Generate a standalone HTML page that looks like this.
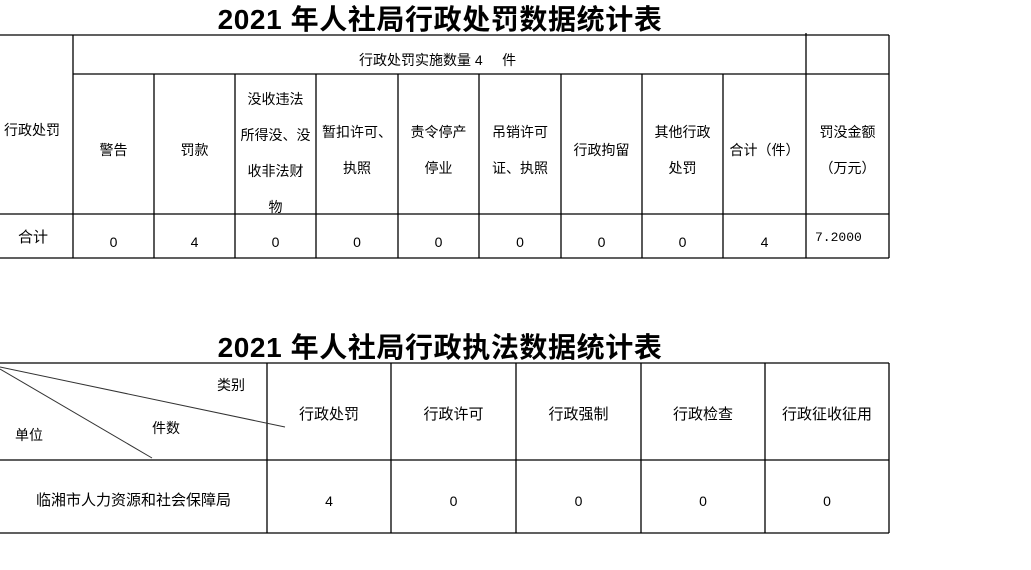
<!DOCTYPE html>
<html><head><meta charset="utf-8"><style>
body{margin:0;width:1031px;height:570px;background:#fff;position:relative;overflow:hidden;font-family:"Liberation Sans","Noto Sans CJK SC",sans-serif;color:#000}
.t{position:absolute;font-size:14px;white-space:nowrap;line-height:1}
.c{position:absolute;font-size:14px;text-align:center;line-height:36px}
.h{position:absolute;left:140px;width:600px;text-align:center;font-weight:bold;font-size:28px;letter-spacing:0.6px;white-space:nowrap;line-height:1}
svg{position:absolute;left:0;top:0}
</style></head><body>
<svg width="1031" height="570">
<g stroke="#000" stroke-width="1.3" fill="none">
<line x1="0" y1="35" x2="889" y2="35"/>
<line x1="73" y1="74" x2="889" y2="74"/>
<line x1="0" y1="214" x2="889" y2="214"/>
<line x1="0" y1="258" x2="889" y2="258"/>
<line x1="73" y1="35" x2="73" y2="258"/>
<line x1="154" y1="74" x2="154" y2="258"/>
<line x1="235" y1="74" x2="235" y2="258"/>
<line x1="316" y1="74" x2="316" y2="258"/>
<line x1="398" y1="74" x2="398" y2="258"/>
<line x1="479" y1="74" x2="479" y2="258"/>
<line x1="561" y1="74" x2="561" y2="258"/>
<line x1="642" y1="74" x2="642" y2="258"/>
<line x1="723" y1="74" x2="723" y2="258"/>
<line x1="806" y1="33" x2="806" y2="258"/>
<line x1="889" y1="35" x2="889" y2="258"/>
<line x1="0" y1="363" x2="889" y2="363"/>
<line x1="0" y1="460" x2="889" y2="460"/>
<line x1="0" y1="533" x2="889" y2="533"/>
<line x1="267" y1="363" x2="267" y2="533"/>
<line x1="391" y1="363" x2="391" y2="533"/>
<line x1="516" y1="363" x2="516" y2="533"/>
<line x1="641" y1="363" x2="641" y2="533"/>
<line x1="765" y1="363" x2="765" y2="533"/>
<line x1="889" y1="363" x2="889" y2="533"/>
</g>
<g stroke="#333" stroke-width="1" fill="none">
<line x1="0" y1="367" x2="285" y2="427"/>
<line x1="0" y1="369" x2="152" y2="458"/>
</g>
</svg>
<div class="h" style="top:6px">2021 年人社局行政处罚数据统计表</div>
<div class="h" style="top:334px">2021 年人社局行政执法数据统计表</div>

<div class="t" style="left:359px;top:53px">行政处罚实施数量 4&nbsp;&nbsp;&nbsp;&nbsp; 件</div>
<div class="t" style="left:4px;top:123px">行政处罚</div>
<div class="c" style="left:73px;width:81px;top:132px">警告</div>
<div class="c" style="left:154px;width:81px;top:132px">罚款</div>
<div class="c" style="left:235px;width:81px;top:81px">没收违法<br>所得没、没<br>收非法财<br>物</div>
<div class="c" style="left:316px;width:82px;top:114px">暂扣许可、<br>执照</div>
<div class="c" style="left:398px;width:81px;top:114px">责令停产<br>停业</div>
<div class="c" style="left:479px;width:82px;top:114px">吊销许可<br>证、执照</div>
<div class="c" style="left:561px;width:81px;top:132px">行政拘留</div>
<div class="c" style="left:642px;width:81px;top:114px">其他行政<br>处罚</div>
<div class="c" style="left:723px;width:83px;top:132px">合计（件）</div>
<div class="c" style="left:806px;width:83px;top:114px">罚没金额<br>（万元）</div>

<div class="t" style="left:18px;top:230px;font-size:15px">合计</div>
<div class="c" style="left:73px;width:81px;top:224px">0</div>
<div class="c" style="left:154px;width:81px;top:224px">4</div>
<div class="c" style="left:235px;width:81px;top:224px">0</div>
<div class="c" style="left:316px;width:82px;top:224px">0</div>
<div class="c" style="left:398px;width:81px;top:224px">0</div>
<div class="c" style="left:479px;width:82px;top:224px">0</div>
<div class="c" style="left:561px;width:81px;top:224px">0</div>
<div class="c" style="left:642px;width:81px;top:224px">0</div>
<div class="c" style="left:723px;width:83px;top:224px">4</div>
<div class="t" style="left:815px;top:231px;font-family:'Liberation Mono',monospace;font-size:13px">7.2000</div>

<div class="t" style="left:217px;top:378px">类别</div>
<div class="t" style="left:152px;top:421px">件数</div>
<div class="t" style="left:15px;top:428px">单位</div>
<div class="c" style="left:267px;width:124px;top:397px;font-size:15px">行政处罚</div>
<div class="c" style="left:391px;width:125px;top:397px;font-size:15px">行政许可</div>
<div class="c" style="left:516px;width:125px;top:397px;font-size:15px">行政强制</div>
<div class="c" style="left:641px;width:124px;top:397px;font-size:15px">行政检查</div>
<div class="c" style="left:765px;width:124px;top:397px;font-size:15px">行政征收征用</div>
<div class="c" style="left:0;width:267px;top:483px;font-size:15px">临湘市人力资源和社会保障局</div>
<div class="c" style="left:267px;width:124px;top:483px">4</div>
<div class="c" style="left:391px;width:125px;top:483px">0</div>
<div class="c" style="left:516px;width:125px;top:483px">0</div>
<div class="c" style="left:641px;width:124px;top:483px">0</div>
<div class="c" style="left:765px;width:124px;top:483px">0</div>
</body></html>
